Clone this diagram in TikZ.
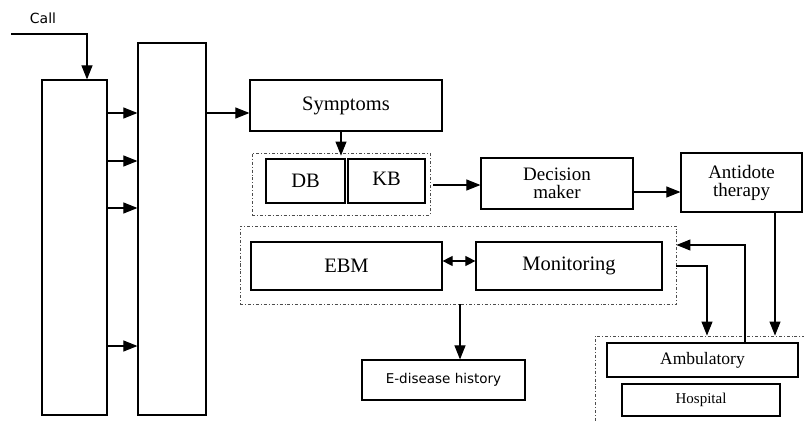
\documentclass[tikz,border=0pt]{standalone}
\usepackage{fontspec}
\setmainfont{Liberation Serif}
\newfontfamily\callfont{DejaVu Sans}
\usetikzlibrary{arrows.meta,positioning}

\begin{document}
\begin{tikzpicture}[x=1pt, y=-1pt,
  box/.style={draw, line width=1.2pt, inner sep=0pt, align=center},
  group/.style={draw=black!70, line width=0.9pt, dash dot, inner sep=0pt},
  arr/.style={line width=1.1pt, -{Triangle[length=14pt,width=11pt]}},
  big/.style={font=\fontsize{20.5}{20}\selectfont},
  mid/.style={font=\fontsize{19}{18}\selectfont}]
  \useasboundingbox (0,0) rectangle (804,423);

  % Draw tall boxes
  \node[box, minimum width=65pt, minimum height=335pt] (intake) at (74.5,247.5) {};
  \node[box, minimum width=68pt, minimum height=372pt] (router) at (172,229) {};
  \node[font=\callfont\fontsize{14}{14}\selectfont] (call) at (43,18) {Call};
  \coordinate (callin) at (11,34);

  % Draw upper chain
  \node[box, big, minimum width=192pt, minimum height=51pt] (symptoms) at (346,105.5) {Symptoms};
  \node[group, minimum width=178pt, minimum height=62pt] (base) at (341,184) {};
  \node[box, big, minimum width=79pt, minimum height=44pt] (db) at (305.5,181) {DB};
  \node[box, big, minimum width=77pt, minimum height=44pt] (kb) at (386.5,181) {\raisebox{5pt}{KB}};
  \node[box, mid, minimum width=152pt, minimum height=51pt] (decision) at (557,183.5) {Decision\\maker};
  \node[box, mid, minimum width=121pt, minimum height=59pt] (antidote) at (741.5,182.5) {Antidote\\therapy};

  % Draw middle group
  \node[group, minimum width=436pt, minimum height=78pt] (watch) at (458,265) {};
  \node[box, big, minimum width=191pt, minimum height=48pt] (ebm) at (346.5,266) {EBM};
  \node[box, big, minimum width=186pt, minimum height=48pt] (monitoring) at (569,266) {Monitoring};
  \node[box, font=\callfont\fontsize{13.5}{14}\selectfont, minimum width=163pt, minimum height=40pt] (history) at (443.5,380) {E-disease history};

  % Draw care group
  \node[group, minimum width=220pt, minimum height=110pt] (care) at (705,391) {};
  \node[box, font=\fontsize{17.5}{17}\selectfont, minimum width=191pt, minimum height=34pt] (ambulatory) at (702.5,360) {Ambulatory};
  \node[box, font=\fontsize{15}{15}\selectfont, minimum width=158pt, minimum height=32pt] (hospital) at (701,400) {Hospital};

  % Draw arrows
  \draw[arr] (callin) -| ([xshift=12.5pt]intake.north);
  \foreach \y in {113,161,208,346} {
    \draw[arr] (intake.east |- 0,\y) -- (router.west |- 0,\y);
  }
  \draw[arr] (router.east |- 0,113) -- (symptoms.west |- 0,113);
  \draw[arr] (symptoms.south -| 341,0) -- ([yshift=-3pt]base.north -| 341,0);
  \draw[arr] ([xshift=3pt]base.east |- 0,185) -- (decision.west |- 0,185);
  \draw[arr] (decision.east |- 0,192) -- (antidote.west |- 0,192);
  \draw[line width=1.1pt, {Triangle[length=10pt,width=10pt]}-{Triangle[length=10pt,width=10pt]}] (ebm.east |- 0,261) -- (monitoring.west |- 0,261);
  \draw[arr] (watch.south -| 460,0) -- (history.north -| 460,0);
  \draw[arr] (antidote.south -| 775,0) -- (care.north -| 775,0);
  \draw[arr] (ambulatory.north -| 745,0) |- (watch.east |- 0,245);
  \draw[arr] (watch.east |- 0,266) -| (care.north -| 707,0);
\end{tikzpicture}
\end{document}
